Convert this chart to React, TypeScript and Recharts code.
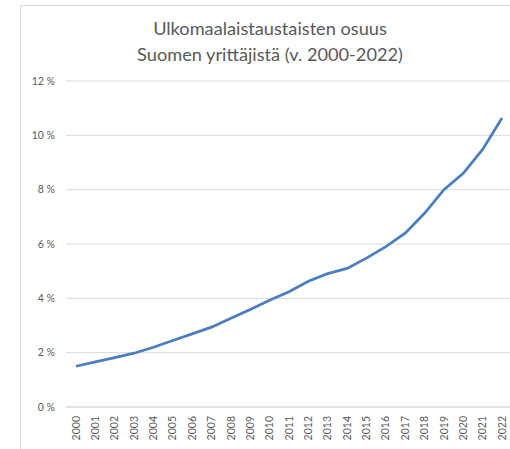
import { LineChart, Line, XAxis, YAxis, CartesianGrid } from "recharts";

const years = [
  "2000", "2001", "2002", "2003", "2004", "2005", "2006", "2007", "2008", "2009", "2010", "2011",
  "2012", "2013", "2014", "2015", "2016", "2017", "2018", "2019", "2020", "2021", "2022",
];
const shares = [
  1.5, 1.66, 1.82, 1.98, 2.2, 2.45, 2.69, 2.94, 3.27, 3.59, 3.93, 4.24,
  4.63, 4.91, 5.1, 5.48, 5.9, 6.4, 7.13, 8.0, 8.6, 9.48, 10.64,
];
const yTicks = [0, 2, 4, 6, 8, 10, 12];

const data = years.map((y, i) => ({ year: y, share: shares[i] }));

const FONT = "Lato, 'Open Sans', sans-serif";
const TEXT = "#595959";

function YearTick({ x, y, payload }: any) {
  return (
    <text
      x={x}
      y={y}
      transform={`rotate(-90 ${x} ${y})`}
      textAnchor="end"
      dy="0.35em"
      fontSize={10.5}
      fontFamily={FONT}
      fill={TEXT}
    >
      {payload.value}
    </text>
  );
}

export default function App() {
  return (
    <div
      style={{
        position: "absolute",
        left: 0,
        top: 0,
        width: 510,
        height: 449,
        overflow: "hidden",
        background: "#fff",
      }}
    >
      {/* chart frame */}
      <div
        style={{
          position: "absolute",
          left: 20,
          top: 5,
          width: 520,
          height: 470,
          border: "1px solid #d9d9d9",
        }}
      />
      <div
        style={{
          position: "absolute",
          left: 70,
          width: 400,
          top: 15,
          textAlign: "center",
          fontFamily: FONT,
          fontSize: 18.2,
          lineHeight: "26px",
          color: TEXT,
        }}
      >
        Ulkomaalaistaustaisten osuus
        <br />
        Suomen yrittäjistä (v. 2000-2022)
      </div>
      <div style={{ position: "absolute", left: 0, top: 0 }}>
        <LineChart
          width={530}
          height={449}
          data={data}
          margin={{ top: 81, right: 18, bottom: 0, left: 0 }}
        >
          <CartesianGrid vertical={false} stroke="#d9d9d9" />
          <XAxis
            dataKey="year"
            interval={0}
            height={42}
            padding={{ left: 10, right: 10 }}
            axisLine={{ stroke: "#d9d9d9" }}
            tickLine={false}
            tickMargin={3}
            tick={<YearTick />}
          />
          <YAxis
            width={66}
            domain={[0, 12]}
            ticks={yTicks}
            axisLine={false}
            tickLine={false}
            tickMargin={5}
            tickFormatter={(v) => `${v} %`}
            tick={{ fontSize: 10.5, fontFamily: FONT, fill: TEXT }}
          />
          <Line
            type="linear"
            dataKey="share"
            stroke="#4a7ebf"
            strokeWidth={2.75}
            dot={false}
            isAnimationActive={false}
          />
        </LineChart>
      </div>
    </div>
  );
}
